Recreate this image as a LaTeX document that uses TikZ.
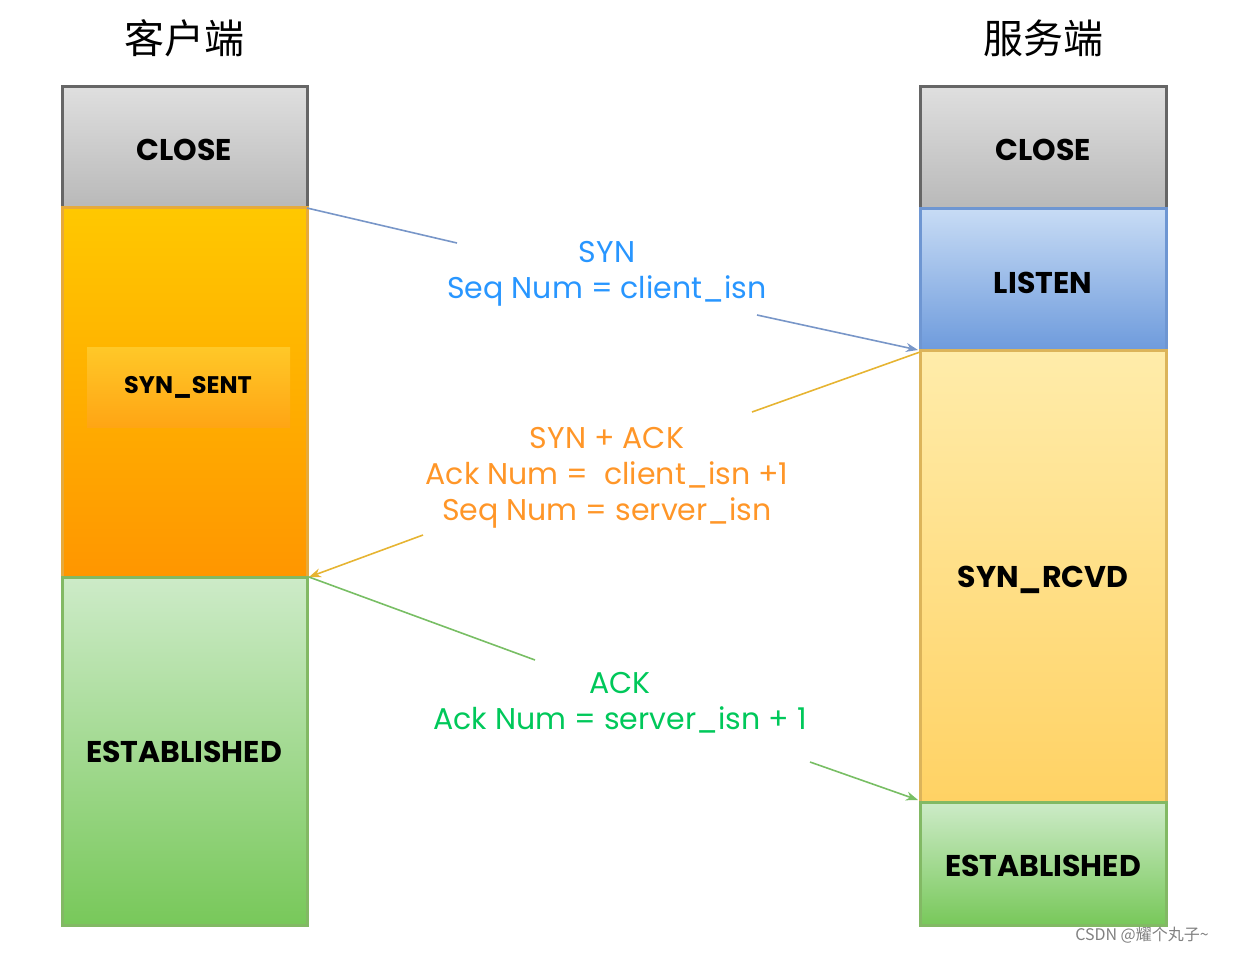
\documentclass[tikz,border=0pt]{standalone}
\usepackage{fontspec}
\setmainfont{Poppins}
\newfontfamily\cjk{Noto Sans CJK SC}
\usetikzlibrary{arrows.meta}
\definecolor{oT}{RGB}{255,200,0}
\definecolor{oB}{RGB}{255,150,0}
\definecolor{oiT}{RGB}{255,200,40}
\definecolor{oiB}{RGB}{255,165,20}
\definecolor{oD}{RGB}{230,170,60}
\definecolor{gB}{RGB}{120,200,90}
\definecolor{gT}{RGB}{205,235,200}
\definecolor{gD}{RGB}{130,185,100}
\definecolor{bT}{RGB}{200,220,245}
\definecolor{bB}{RGB}{110,155,220}
\definecolor{bD}{RGB}{110,150,210}
\definecolor{yT}{RGB}{255,236,170}
\definecolor{yB}{RGB}{255,210,100}
\definecolor{yD}{RGB}{220,180,90}
\definecolor{tB}{RGB}{40,150,255}
\definecolor{tO}{RGB}{255,150,40}
\definecolor{tG}{RGB}{0,200,90}
\definecolor{lB}{RGB}{120,150,200}
\definecolor{lO}{RGB}{230,180,50}
\definecolor{lG}{RGB}{120,190,100}
\begin{document}
\begin{tikzpicture}[x=0.5pt,y=-0.5pt,
  box/.style={draw=#1,line width=1.5pt},
  lab/.style={font=\fontsize{15}{17}\selectfont\bfseries},
  msg/.style={font=\fontsize{15}{18}\selectfont,align=center},
  arr/.style={line width=0.8pt,-{Stealth[length=6pt]}}]
\useasboundingbox (0,0) rectangle (1236,954);
% left column
\shade[top color=gray!25,bottom color=gray!55] (62,86) rectangle (307,207);
\draw[box=gray!80!black] (62,86) rectangle (307,207);
\shade[top color=oT,bottom color=oB] (62,207) rectangle (307,577);
\draw[box=oD] (62,207) rectangle (307,577);
\shade[top color=oiT,bottom color=oiB] (87,347) rectangle (290,427);
\shade[top color=gT,bottom color=gB] (62,577) rectangle (307,925);
\draw[box=gD] (62,577) rectangle (307,925);
\node[lab] (c1) at (184,150) {CLOSE};
\node[lab,font=\fontsize{12}{14}\selectfont\bfseries] (c2) at (188,387) {SYN\_SENT};
\node[lab] (c3) at (184,752) {ESTABLISHED};
% right column
\shade[top color=gray!25,bottom color=gray!55] (920,86) rectangle (1166,208);
\draw[box=gray!80!black] (920,86) rectangle (1166,208);
\shade[top color=bT,bottom color=bB] (920,208) rectangle (1166,350);
\draw[box=bD] (920,208) rectangle (1166,350);
\shade[top color=yT,bottom color=yB] (920,350) rectangle (1166,802);
\draw[box=yD] (920,350) rectangle (1166,802);
\shade[top color=gT,bottom color=gB] (920,802) rectangle (1166,925);
\draw[box=gD] (920,802) rectangle (1166,925);
\node[lab] (s1) at (1043,150) {CLOSE};
\node[lab] (s2) at (1043,283) {LISTEN};
\node[lab] (s3) at (1043,580) {SYN\_RCVD};
\node[lab] (s4) at (1043,866) {ESTABLISHED};
% headers
\node[font=\cjk\fontsize{20}{22}\selectfont] (h1) at (184,38) {客户端};
\node[font=\cjk\fontsize{20}{22}\selectfont] (h2) at (1043,38) {服务端};
% messages
\node[msg,text=tB] (m1) at (607,274) {SYN\\Seq Num = client\_isn};
\node[msg,text=tO] (m2) at (607,478) {SYN + ACK\\Ack Num = \ client\_isn +1\\Seq Num = server\_isn};
\node[msg,text=tG] (m3) at (620,703) {ACK\\Ack Num = server\_isn + 1};
\coordinate (a1) at (307,208); \coordinate (a2) at (457,243);
\coordinate (a3) at (757,315); \coordinate (a4) at (918,350);
\draw[line width=0.8pt,lB] (a1)--(a2);
\draw[arr,lB] (a3)--(a4);
\coordinate (b1) at (920,352); \coordinate (b2) at (752,412);
\coordinate (b3) at (423,535); \coordinate (b4) at (309,577);
\draw[line width=0.8pt,lO] (b1)--(b2);
\draw[arr,lO] (b3)--(b4);
\coordinate (d1) at (309,577); \coordinate (d2) at (535,660);
\coordinate (d3) at (810,762); \coordinate (d4) at (918,800);
\draw[line width=0.8pt,lG] (d1)--(d2);
\draw[arr,lG] (d3)--(d4);
\node[font=\cjk\fontsize{8}{9}\selectfont,text=gray] (w) at (1142,935) {CSDN @耀个丸子\textasciitilde};
\end{tikzpicture}
\end{document}
